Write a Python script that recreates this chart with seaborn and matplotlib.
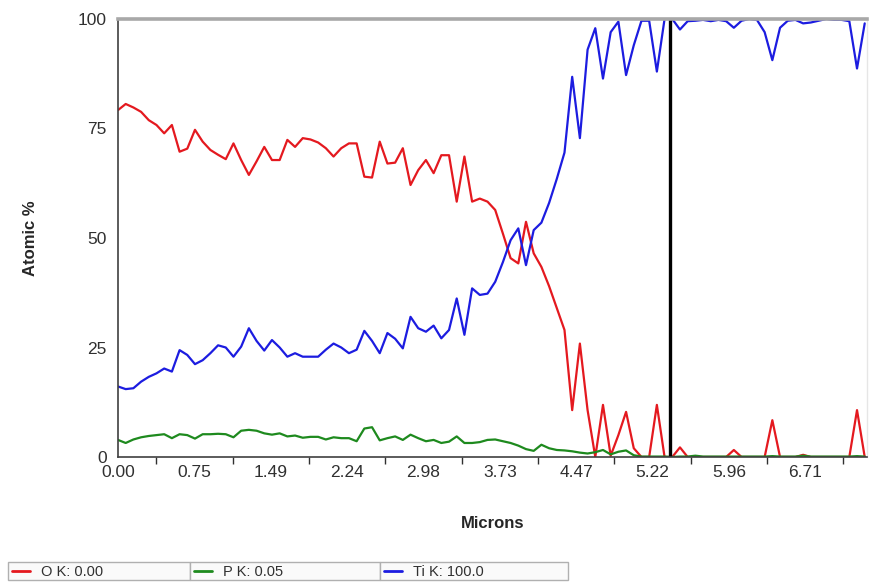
import numpy as np
import pandas as pd
import matplotlib
matplotlib.use("Agg")
import matplotlib.pyplot as plt
from matplotlib.patches import Rectangle
from matplotlib.lines import Line2D
from matplotlib.ticker import MultipleLocator
import seaborn as sns

# EDS line scan
o_k = [79.2, 80.6, 79.8, 78.8, 76.9, 75.8, 73.9, 75.8, 69.7, 70.4,
       74.7, 72.0, 70.1, 69.0, 68.0, 71.6, 67.8, 64.4, 67.5, 70.8,
       67.8, 67.8, 72.4, 70.8, 72.8, 72.5, 71.8, 70.5, 68.6, 70.5,
       71.6, 71.6, 64.0, 63.8, 72.0, 67.0, 67.2, 70.5, 62.1, 65.5,
       67.8, 64.8, 68.9, 68.9, 58.3, 68.6, 58.3, 59.0, 58.3, 56.4,
       51.0, 45.4, 44.2, 53.7, 46.5, 43.4, 39.0, 34.0, 29.0, 10.7,
       25.9, 10.7, 0.0, 11.9, 0.3, 5.0, 10.3, 2.0, 0.0, 0.0,
       11.9, 0.0, 0.0, 2.2, 0.0, 0.0, 0.0, 0.0, 0.0, 0.0,
       1.6, 0.0, 0.0, 0.0, 0.0, 8.4, 0.0, 0.0, 0.0, 0.5,
       0.0, 0.0, 0.0, 0.0, 0.0, 0.0, 10.7, 0.0]
p_k = [3.9, 3.2, 4.0, 4.5, 4.8, 5.0, 5.2, 4.3, 5.2, 5.0,
       4.2, 5.2, 5.2, 5.3, 5.2, 4.5, 6.0, 6.2, 6.0, 5.4,
       5.1, 5.4, 4.7, 4.9, 4.4, 4.6, 4.6, 4.0, 4.5, 4.3,
       4.3, 3.6, 6.5, 6.8, 3.8, 4.3, 4.7, 3.9, 5.1, 4.3,
       3.6, 3.9, 3.2, 3.5, 4.7, 3.2, 3.2, 3.4, 3.9, 4.0,
       3.6, 3.2, 2.6, 1.8, 1.4, 2.8, 2.0, 1.6, 1.5, 1.3,
       1.0, 0.8, 1.1, 1.6, 0.6, 1.2, 1.5, 0.4, 0.1, 0.1,
       0.1, 0.1, 0.0, 0.1, 0.1, 0.3, 0.1, 0.1, 0.1, 0.1,
       0.1, 0.1, 0.1, 0.1, 0.1, 0.2, 0.1, 0.1, 0.1, 0.3,
       0.1, 0.1, 0.1, 0.1, 0.1, 0.1, 0.2, 0.1]
ti_k = [16.1, 15.5, 15.7, 17.2, 18.3, 19.1, 20.2, 19.5, 24.4, 23.3,
        21.2, 22.1, 23.7, 25.5, 25.0, 22.9, 25.2, 29.4, 26.5, 24.3,
        26.7, 25.0, 22.9, 23.7, 22.9, 22.9, 22.9, 24.5, 25.9, 25.0,
        23.7, 24.5, 28.8, 26.5, 23.7, 28.3, 27.0, 24.8, 32.0, 29.4,
        28.6, 30.0, 27.1, 29.0, 36.2, 27.9, 38.5, 37.0, 37.3, 40.0,
        44.5, 49.5, 52.2, 43.8, 51.8, 53.5, 58.0, 63.5, 69.5, 86.8,
        72.8, 93.0, 97.9, 86.4, 97.0, 99.4, 87.2, 94.0, 99.6, 99.6,
        88.0, 100.0, 100.0, 97.6, 99.5, 99.6, 99.8, 99.5, 99.8, 99.5,
        98.0, 99.6, 100.0, 99.8, 97.0, 90.6, 98.0, 99.6, 99.8, 99.0,
        99.2, 99.6, 100.0, 99.8, 99.8, 99.5, 88.7, 99.0]

step = 0.0751
microns = np.round(np.arange(len(o_k)) * step, 4)
tick_labels = ["0.00", "0.75", "1.49", "2.24", "2.98", "3.73", "4.47", "5.22", "5.96", "6.71"]
cursor_pos = 5.385
legend_texts = ["O K: 0.00", "P K: 0.05", "Ti K: 100.0"]

colors = {"O K": "#e4191f", "P K": "#1e8a1e", "Ti K": "#1c1ce0"}

df = pd.DataFrame({"microns": microns, "O K": o_k, "P K": p_k, "Ti K": ti_k})
long_df = df.melt(id_vars="microns", var_name="element", value_name="atomic")

sns.set_style("white")
plt.rcParams["font.family"] = ["Liberation Sans", "DejaVu Sans"]

fig = plt.figure(figsize=(8.72, 5.84), dpi=100)
ax = fig.add_axes([118 / 872, 127 / 584, 749 / 872, 438 / 584])

sns.lineplot(data=long_df, x="microns", y="atomic", hue="element",
             palette=colors, linewidth=1.6, legend=False, sort=False, ax=ax)

ax.axvline(cursor_pos, color="black", linewidth=2.4)

ax.set_xlim(0, 7.307)
ax.set_ylim(0, 100)
ax.set_xticks([0.745 * i for i in range(len(tick_labels))])
ax.set_xticklabels(tick_labels)
ax.xaxis.set_minor_locator(MultipleLocator(0.3725))
ax.set_yticks([0, 25, 50, 75, 100])
ax.tick_params(axis="both", which="major", labelsize=12.5, colors="#303030",
               direction="out", length=5, width=1)
ax.tick_params(axis="x", which="minor", direction="out", length=5, width=1,
               colors="#303030", bottom=True)
ax.tick_params(axis="x", pad=1)
ax.tick_params(axis="y", pad=3)

ax.set_xlabel("Microns", fontsize=12, fontweight="bold", labelpad=26)
ax.set_ylabel("Atomic %", fontsize=12, fontweight="bold", labelpad=29)

ax.spines["left"].set_color("#404040")
ax.spines["bottom"].set_color("#404040")
ax.spines["left"].set_linewidth(1.2)
ax.spines["bottom"].set_linewidth(1.2)
ax.spines["top"].set_color("#a8a8a8")
ax.spines["top"].set_linewidth(2.6)
ax.spines["right"].set_color("#e6e6e6")
ax.spines["right"].set_linewidth(1)

# status bar with the values at the cursor
box_edges = [8, 190, 380, 568]
for i, (label, name) in enumerate(zip(legend_texts, colors)):
    x0 = box_edges[i] / 872
    w = (box_edges[i + 1] - box_edges[i]) / 872
    fig.add_artist(Rectangle((x0, 4 / 584), w, 18 / 584, transform=fig.transFigure,
                             facecolor="#fafafa", edgecolor="#b0b0b0", linewidth=1))
    fig.add_artist(Line2D([x0 + 4 / 872, x0 + 22 / 872], [13 / 584, 13 / 584],
                          transform=fig.transFigure, color=colors[name], linewidth=2))
    fig.text(x0 + 33 / 872, 12.5 / 584, label, fontsize=10.5, color="#303030", va="center")

fig.savefig("out.png", dpi=100)
